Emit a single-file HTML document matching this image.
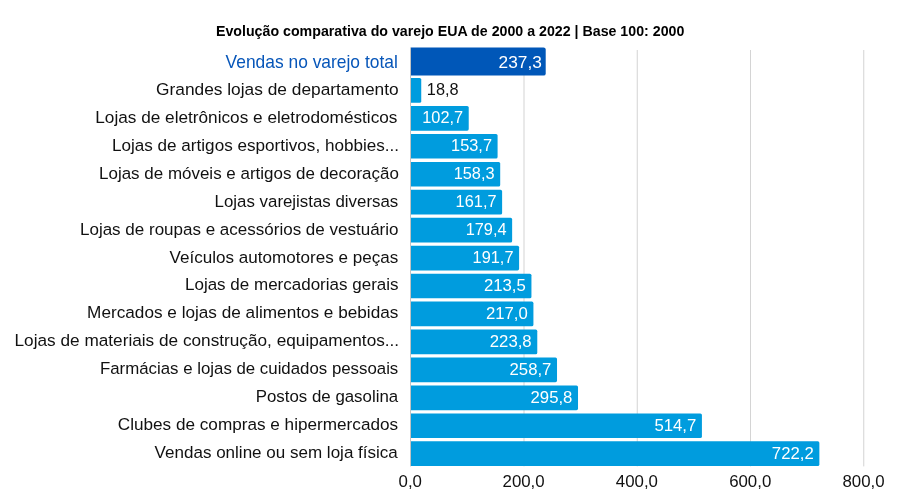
<!DOCTYPE html>
<html lang="pt-BR"><head><meta charset="utf-8"><title>Evolução comparativa do varejo EUA</title>
<style>
html,body{margin:0;padding:0;background:#fff;}
body{width:900px;height:500px;overflow:hidden;}
svg{display:block;}
text{font-family:"Liberation Sans",sans-serif;}
.t{font-weight:bold;font-size:14.8px;fill:#000;}
.c{font-size:16.8px;fill:#111;}
.c0{font-size:17.8px;fill:#0756b9;}
.v0{font-size:17.3px;fill:#fff;}
.v{font-size:16.1px;fill:#fff;}
.vo{font-size:16.1px;fill:#111;}
.a{font-size:16.2px;fill:#111;}
</style></head><body>
<svg width="900" height="500" viewBox="0 0 900 500">
<rect width="900" height="500" fill="#fff"/>
<text class="t" x="450.15" y="35.75" text-anchor="middle" textLength="468.4" lengthAdjust="spacingAndGlyphs">Evolução comparativa do varejo EUA de 2000 a 2022 | Base 100: 2000</text>
<rect x="523.50" y="50" width="1" height="416.4" fill="#d4d4d4"/>
<rect x="636.75" y="50" width="1" height="416.4" fill="#d4d4d4"/>
<rect x="750.00" y="50" width="1" height="416.4" fill="#d4d4d4"/>
<rect x="863.25" y="50" width="1" height="416.4" fill="#d4d4d4"/>
<rect x="410.1" y="47.4" width="0.9" height="419" fill="#bdbdbd"/>
<path d="M411.00 47.40H543.51Q545.71 47.40 545.71 49.60V73.40Q545.71 75.60 543.51 75.60H411.00Z" fill="#0057b8"/>
<text class="c0 lab" x="225.57" y="67.60" textLength="172.22" lengthAdjust="spacingAndGlyphs">Vendas no varejo total</text>
<text class="v0" x="541.81" y="68.1" text-anchor="end">237,3</text>
<path d="M411.00 78.03H419.64Q421.24 78.03 421.24 79.62V101.13Q421.24 102.73 419.64 102.73H411.00Z" fill="#009cde"/>
<text class="c lab" x="156.04" y="95.20" textLength="242.61" lengthAdjust="spacingAndGlyphs">Grandes lojas de departamento</text>
<text class="vo" x="426.84" y="94.98" textLength="31.80" lengthAdjust="spacingAndGlyphs">18,8</text>
<path d="M411.00 105.98H467.13Q468.73 105.98 468.73 107.58V129.08Q468.73 130.68 467.13 130.68H411.00Z" fill="#009cde"/>
<text class="c lab" x="95.25" y="123.09" textLength="302.22" lengthAdjust="spacingAndGlyphs">Lojas de eletrônicos e eletrodomésticos</text>
<text class="v" x="463.13" y="123.01" text-anchor="end" textLength="40.89" lengthAdjust="spacingAndGlyphs">102,7</text>
<path d="M411.00 133.93H495.99Q497.59 133.93 497.59 135.53V157.03Q497.59 158.62 495.99 158.62H411.00Z" fill="#009cde"/>
<text class="c lab" x="111.96" y="150.99" textLength="287.10" lengthAdjust="spacingAndGlyphs">Lojas de artigos esportivos, hobbies...</text>
<text class="v" x="491.99" y="151.04" text-anchor="end" textLength="40.89" lengthAdjust="spacingAndGlyphs">153,7</text>
<path d="M411.00 161.88H498.60Q500.20 161.88 500.20 163.47V184.97Q500.20 186.57 498.60 186.57H411.00Z" fill="#009cde"/>
<text class="c lab" x="99.06" y="178.88" textLength="299.84" lengthAdjust="spacingAndGlyphs">Lojas de móveis e artigos de decoração</text>
<text class="v" x="494.60" y="179.07" text-anchor="end" textLength="40.89" lengthAdjust="spacingAndGlyphs">158,3</text>
<path d="M411.00 189.83H500.52Q502.12 189.83 502.12 191.43V212.93Q502.12 214.53 500.52 214.53H411.00Z" fill="#009cde"/>
<text class="c lab" x="214.58" y="206.78" textLength="183.68" lengthAdjust="spacingAndGlyphs">Lojas varejistas diversas</text>
<text class="v" x="496.52" y="207.10" text-anchor="end" textLength="40.89" lengthAdjust="spacingAndGlyphs">161,7</text>
<path d="M411.00 217.78H510.54Q512.14 217.78 512.14 219.38V240.88Q512.14 242.47 510.54 242.47H411.00Z" fill="#009cde"/>
<text class="c lab" x="79.97" y="234.68" textLength="318.53" lengthAdjust="spacingAndGlyphs">Lojas de roupas e acessórios de vestuário</text>
<text class="v" x="506.54" y="235.13" text-anchor="end" textLength="40.89" lengthAdjust="spacingAndGlyphs">179,4</text>
<path d="M411.00 245.72H517.50Q519.10 245.72 519.10 247.32V268.82Q519.10 270.43 517.50 270.43H411.00Z" fill="#009cde"/>
<text class="c lab" x="169.62" y="262.57" textLength="228.66" lengthAdjust="spacingAndGlyphs">Veículos automotores e peças</text>
<text class="v" x="513.50" y="263.16" text-anchor="end" textLength="40.89" lengthAdjust="spacingAndGlyphs">191,7</text>
<path d="M411.00 273.67H529.84Q531.44 273.67 531.44 275.27V296.77Q531.44 298.37 529.84 298.37H411.00Z" fill="#009cde"/>
<text class="c lab" x="184.97" y="290.46" textLength="213.59" lengthAdjust="spacingAndGlyphs">Lojas de mercadorias gerais</text>
<text class="v" x="525.84" y="291.19" text-anchor="end" textLength="41.89" lengthAdjust="spacingAndGlyphs">213,5</text>
<path d="M411.00 301.62H531.82Q533.42 301.62 533.42 303.22V324.72Q533.42 326.32 531.82 326.32H411.00Z" fill="#009cde"/>
<text class="c lab" x="87.13" y="318.36" textLength="311.24" lengthAdjust="spacingAndGlyphs">Mercados e lojas de alimentos e bebidas</text>
<text class="v" x="527.82" y="319.22" text-anchor="end" textLength="41.89" lengthAdjust="spacingAndGlyphs">217,0</text>
<path d="M411.00 329.57H535.67Q537.27 329.57 537.27 331.17V352.67Q537.27 354.27 535.67 354.27H411.00Z" fill="#009cde"/>
<text class="c lab" x="14.55" y="346.25" textLength="384.61" lengthAdjust="spacingAndGlyphs">Lojas de materiais de construção, equipamentos...</text>
<text class="v" x="531.67" y="347.25" text-anchor="end" textLength="41.89" lengthAdjust="spacingAndGlyphs">223,8</text>
<path d="M411.00 357.52H555.42Q557.02 357.52 557.02 359.12V380.62Q557.02 382.22 555.42 382.22H411.00Z" fill="#009cde"/>
<text class="c lab" x="99.98" y="374.15" textLength="298.32" lengthAdjust="spacingAndGlyphs">Farmácias e lojas de cuidados pessoais</text>
<text class="v" x="551.42" y="375.28" text-anchor="end" textLength="41.89" lengthAdjust="spacingAndGlyphs">258,7</text>
<path d="M411.00 385.47H576.42Q578.02 385.47 578.02 387.07V408.57Q578.02 410.17 576.42 410.17H411.00Z" fill="#009cde"/>
<text class="c lab" x="255.76" y="402.04" textLength="142.41" lengthAdjust="spacingAndGlyphs">Postos de gasolina</text>
<text class="v" x="572.42" y="403.31" text-anchor="end" textLength="41.89" lengthAdjust="spacingAndGlyphs">295,8</text>
<path d="M411.00 413.42H700.32Q701.92 413.42 701.92 415.02V436.52Q701.92 438.12 700.32 438.12H411.00Z" fill="#009cde"/>
<text class="c lab" x="117.76" y="429.94" textLength="280.34" lengthAdjust="spacingAndGlyphs">Clubes de compras e hipermercados</text>
<text class="v" x="696.32" y="431.34" text-anchor="end" textLength="41.89" lengthAdjust="spacingAndGlyphs">514,7</text>
<path d="M411.00 441.37H817.77Q819.37 441.37 819.37 442.97V464.47Q819.37 466.07 817.77 466.07H411.00Z" fill="#009cde"/>
<text class="c lab" x="154.63" y="457.83" textLength="243.19" lengthAdjust="spacingAndGlyphs">Vendas online ou sem loja física</text>
<text class="v" x="813.77" y="459.37" text-anchor="end" textLength="41.89" lengthAdjust="spacingAndGlyphs">722,2</text>
<text class="a" x="410.30" y="487.2" text-anchor="middle" textLength="23.42" lengthAdjust="spacingAndGlyphs">0,0</text>
<text class="a" x="523.60" y="487.2" text-anchor="middle" textLength="42.15" lengthAdjust="spacingAndGlyphs">200,0</text>
<text class="a" x="636.90" y="487.2" text-anchor="middle" textLength="42.15" lengthAdjust="spacingAndGlyphs">400,0</text>
<text class="a" x="750.20" y="487.2" text-anchor="middle" textLength="42.15" lengthAdjust="spacingAndGlyphs">600,0</text>
<text class="a" x="863.50" y="487.2" text-anchor="middle" textLength="42.15" lengthAdjust="spacingAndGlyphs">800,0</text>
</svg>
</body></html>
